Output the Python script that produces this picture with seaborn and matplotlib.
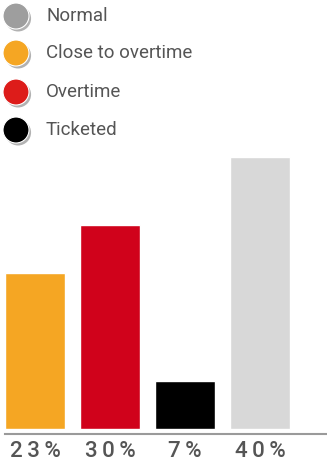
import matplotlib
matplotlib.use("Agg")
import matplotlib.pyplot as plt
import matplotlib.patheffects as pe
import seaborn as sns
import pandas as pd

# Share of vehicles by parking status
categories = ["Close to overtime", "Overtime", "Ticketed", "Normal"]
percent = [23, 30, 7, 40]
bar_colors = ["#f5a623", "#d0021b", "#000000", "#d8d8d8"]

legend_labels = ["Normal", "Close to overtime", "Overtime", "Ticketed"]
legend_colors = ["#9e9e9e", "#f5a623", "#dd1c1a", "#000000"]

sns.set_theme(style="white")
plt.rcParams["font.family"] = ["Roboto", "DejaVu Sans"]

W, H = 327, 466
fig = plt.figure(figsize=(W / 100, H / 100), dpi=100)

# Bar panel
ax_left, ax_bottom, ax_top = 5, 434, 150
ax = fig.add_axes([ax_left / W, (H - ax_bottom) / H, (W - ax_left) / W,
                   (ax_bottom - ax_top) / H])
df = pd.DataFrame({"status": categories, "pct": percent})
sns.barplot(data=df, x="status", y="pct", hue="status", palette=bar_colors,
            order=categories, hue_order=categories, legend=False,
            width=0.8, saturation=1, ax=ax)
px_per_unit = 6.8
ax.set_ylim(-5 / px_per_unit, (ax_bottom - ax_top - 5) / px_per_unit)
ax.set_xlim(-0.4, 3.89)
ax.set_xticks(range(len(categories)))
ax.set_xticklabels(["\u2009".join(f"{v}%") for v in percent], fontsize=16,
                   color="#555555", fontweight="medium")
ax.tick_params(axis="x", length=0, pad=5)
ax.set_yticks([])
ax.set_xlabel("")
ax.set_ylabel("")
for side in ["top", "right", "left"]:
    ax.spines[side].set_visible(False)
ax.spines["bottom"].set_color("#9a9a9a")
ax.spines["bottom"].set_linewidth(1.5)
ax.patch.set_alpha(0)

# Legend with shadowed round markers
ax_leg = fig.add_axes([0, 0, 1, 1])
ax_leg.set_xlim(0, W)
ax_leg.set_ylim(H, 0)
ax_leg.axis("off")
row_y = [16, 53, 92, 130]
shadow = [pe.withSimplePatchShadow(offset=(1.5, -1.8), shadow_rgbFace="#555555",
                                   alpha=0.45)]
for y, lab, col in zip(row_y, legend_labels, legend_colors):
    ax_leg.scatter([16], [y], s=350, color=col, edgecolor="white",
                   linewidth=0.8, path_effects=shadow, zorder=3)
    ax_leg.text(46, y, lab, fontsize=13.5, color="#555555", va="center",
                ha="left")

fig.savefig("out.png", dpi=100)
